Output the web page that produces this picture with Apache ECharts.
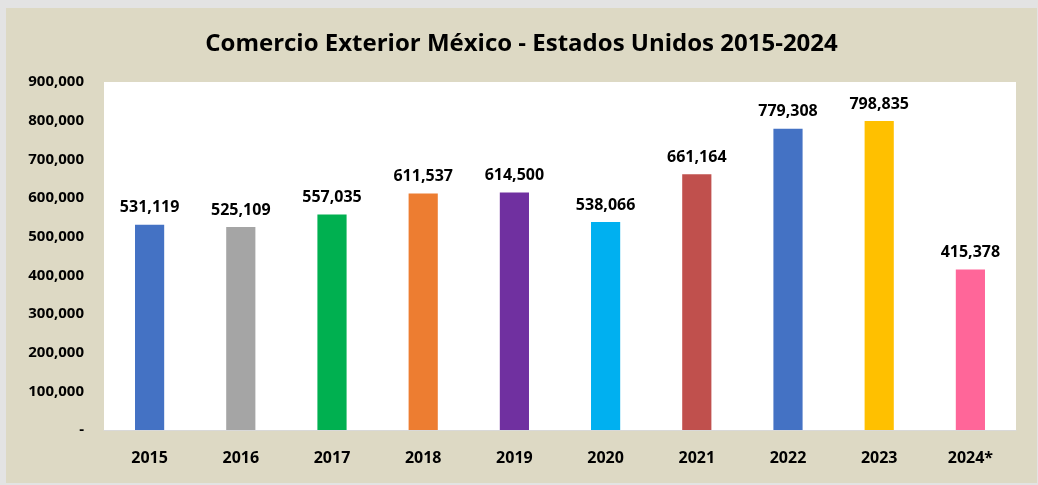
<!DOCTYPE html>
<html><head><meta charset="utf-8">
<script src="https://cdn.jsdelivr.net/npm/echarts@6/dist/echarts.min.js"></script>
<style>
html,body{margin:0;padding:0;background:#E3E3E3;}
#outer{position:absolute;left:0;top:0;width:1038px;height:485px;background:#E3E3E3;}
#chart{position:absolute;left:6px;top:8px;width:1031px;height:475px;background:#DDD9C4;}
</style></head>
<body>
<div id="outer"><div id="chart"></div></div>
<script>
const title = 'Comercio Exterior México - Estados Unidos 2015-2024';
const categories = ['2015','2016','2017','2018','2019','2020','2021','2022','2023','2024*'];
const values = [531119, 525109, 557035, 611537, 614500, 538066, 661164, 779308, 798835, 415378];
const barColors = ['#4472C4','#A5A5A5','#00B050','#ED7D31','#7030A0','#00B0F0','#C0504D','#4472C4','#FFC000','#FF6699'];
const fmt = v => v === 0 ? '-' : v.toLocaleString('en-US');
const font = '"Open Sans", sans-serif';
const chart = echarts.init(document.getElementById('chart'), null, {renderer:'canvas'});
chart.setOption({
  animation:false,
  title:{text:title,left:'center',top:19,textStyle:{fontFamily:font,fontSize:24,fontWeight:'bold',color:'#000'}},
  grid:{left:98,right:21,top:74,bottom:53,show:true,backgroundColor:'#fff',borderWidth:0},
  xAxis:{type:'category',data:categories,
    axisLine:{show:true,lineStyle:{color:'#D9D9D9',width:1}},axisTick:{show:false},
    axisLabel:{fontFamily:font,fontSize:16,fontWeight:'bold',color:'#000',margin:20}},
  yAxis:{type:'value',min:0,max:900000,interval:100000,
    splitLine:{show:false},axisLine:{show:false},axisTick:{show:false},
    axisLabel:{fontFamily:font,fontSize:15,fontWeight:'bold',color:'#000',margin:20,formatter:fmt}},
  series:[{type:'bar',barWidth:'32%',
    data:values.map((v,i)=>({value:v,itemStyle:{color:barColors[i]}})),
    label:{show:true,position:'top',distance:9,fontFamily:font,fontSize:16,fontWeight:'bold',color:'#000',formatter:p=>fmt(p.value)}}]
});
</script>
</body></html>
